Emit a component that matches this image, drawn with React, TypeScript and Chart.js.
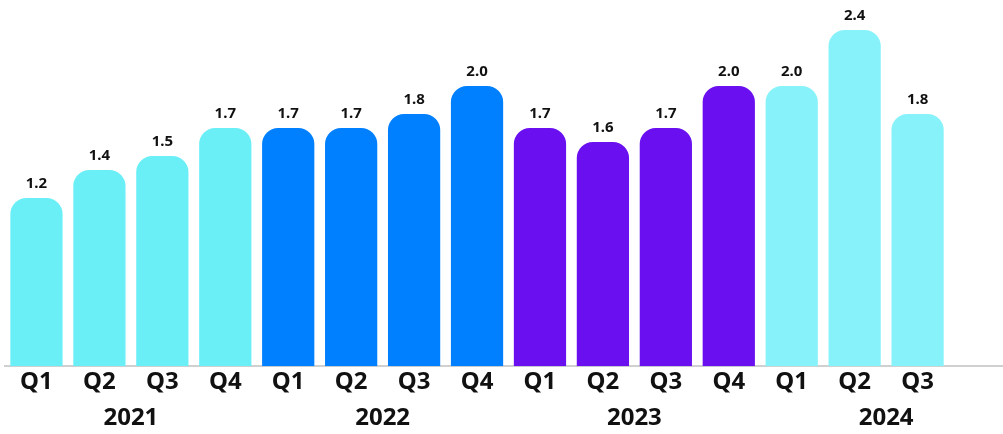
import React, { useEffect, useRef } from "react";
import { Chart, registerables } from "chart.js";

Chart.register(...registerables);

const quarters = ["Q1", "Q2", "Q3", "Q4", "Q1", "Q2", "Q3", "Q4", "Q1", "Q2", "Q3", "Q4", "Q1", "Q2", "Q3", "Q4"];
const years = ["2021", "2022", "2023", "2024"];
const values: (number | null)[] = [1.2, 1.4, 1.5, 1.7, 1.7, 1.7, 1.8, 2.0, 1.7, 1.6, 1.7, 2.0, 2.0, 2.4, 1.8, null];
const yearColors = ["#6BEFF7", "#0080FF", "#690FF0", "#88F2FA"];

const FONT = "'Noto Sans', 'Open Sans', sans-serif";

export default function App() {
  const ref = useRef<HTMLCanvasElement>(null);

  useEffect(() => {
    if (!ref.current) return;
    const labelPlugin = {
      id: "labels",
      afterDatasetsDraw(chart: any) {
        const ctx = chart.ctx;
        const meta = chart.getDatasetMeta(0);
        ctx.save();
        ctx.font = `bold 15px ${FONT}`;
        ctx.fillStyle = "#111";
        ctx.textAlign = "center";
        ctx.textBaseline = "alphabetic";
        meta.data.forEach((bar: any, i: number) => {
          const v = values[i];
          if (v == null) return;
          ctx.fillText(v.toFixed(1), bar.x, bar.y - 10);
        });
        const xs = chart.scales.x;
        ctx.font = `bold 24px ${FONT}`;
        years.forEach((y, g) => {
          const x = (xs.getPixelForValue(g * 4 + 1) + xs.getPixelForValue(g * 4 + 2)) / 2;
          ctx.fillText(y, x, 425);
        });
        ctx.restore();
      },
    };
    const chart = new Chart(ref.current, {
      type: "bar",
      data: {
        labels: quarters,
        datasets: [
          {
            data: values,
            backgroundColor: values.map((_, i) => yearColors[Math.floor(i / 4)]),
            borderRadius: { topLeft: 16, topRight: 16, bottomLeft: 0, bottomRight: 0 },
            borderSkipped: "bottom",
            categoryPercentage: 1,
            barPercentage: 0.83,
          },
        ],
      },
      options: {
        animation: false,
        responsive: false,
        maintainAspectRatio: false,
        layout: { padding: { left: 5, right: 0, top: 2, bottom: 35 } },
        plugins: { legend: { display: false }, tooltip: { enabled: false } },
        scales: {
          y: { display: false, min: 0, max: 2.6 },
          x: {
            grid: { display: false, drawTicks: false },
            border: { display: true, color: "#d0d0d0", width: 2 },
            ticks: {
              color: "#111",
              font: { family: FONT, size: 24, weight: "bold" },
              padding: 2,
              maxRotation: 0,
              autoSkip: false,
              callback: (_v: any, i: number) => (values[i] == null ? "" : quarters[i]),
            },
          },
        },
      },
      plugins: [labelPlugin],
    });
    return () => chart.destroy();
  }, []);

  return (
    <div style={{ position: "absolute", left: 0, top: 0, width: 1003, height: 434, overflow: "hidden", background: "#fff" }}>
      <canvas ref={ref} width={1012} height={434} style={{ width: 1012, height: 434, display: "block" }} />
    </div>
  );
}
